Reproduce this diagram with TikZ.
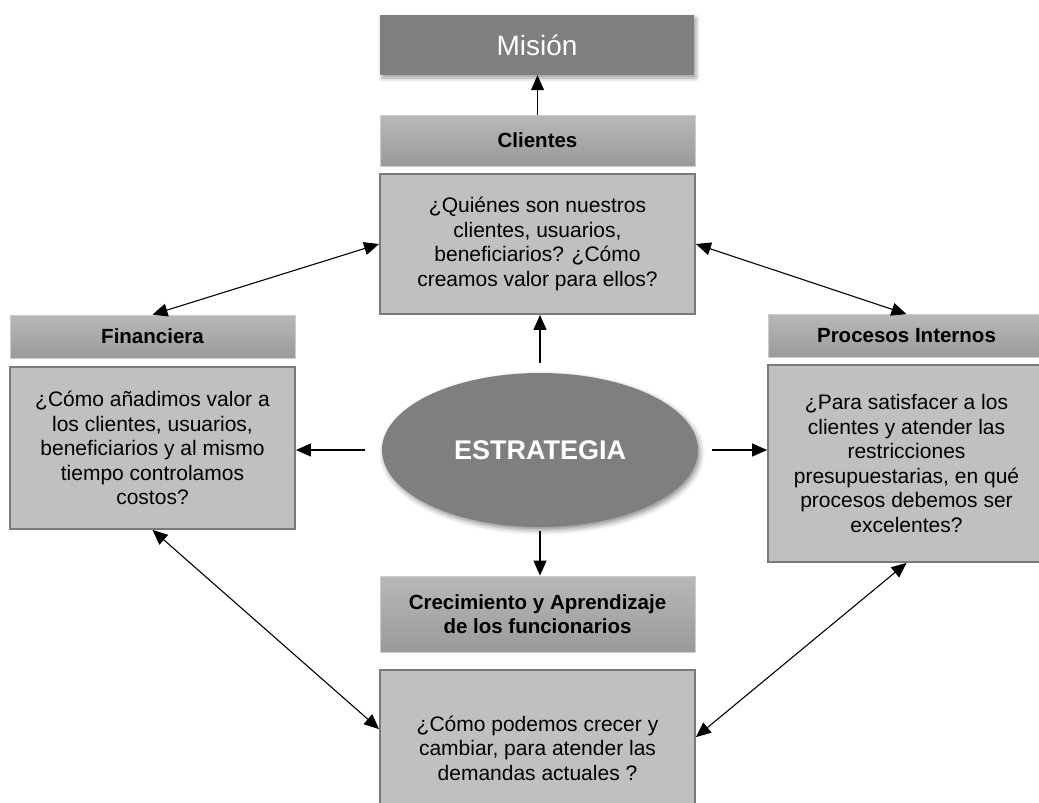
\documentclass[tikz,border=0pt]{standalone}
\usepackage{fontspec}
\setmainfont{Liberation Sans}
\usetikzlibrary{arrows.meta,shadows.blur,shapes.geometric}
\definecolor{darkfill}{HTML}{7F7F7F}
\definecolor{boxfill}{HTML}{C0C0C0}
\definecolor{boxline}{HTML}{7A7A7A}
\definecolor{headtop}{HTML}{B8B8B8}
\definecolor{headbot}{HTML}{9A9A9A}
\definecolor{headline}{HTML}{CCCCCC}
\tikzset{
  headbox/.style={rectangle, top color=headtop, bottom color=headbot, draw=headline, line width=0.8pt,
    inner sep=0pt, align=center, font=\fontsize{20.5}{23.5}\selectfont\bfseries},
  qbox/.style={rectangle, fill=boxfill, draw=boxline, line width=1.8pt, inner sep=0pt, align=center,
    font=\fontsize{21}{24.5}\selectfont},
  arr/.style={line width=1.1pt, -{Triangle[length=15pt,width=13pt]}},
  darr/.style={line width=1.1pt, {Triangle[length=15pt,width=13pt]}-{Triangle[length=15pt,width=13pt]}},
}
\begin{document}
\begin{tikzpicture}[x=1pt,y=-1pt]
\useasboundingbox (0,0) rectangle (1039,803);
\clip (0,0) rectangle (1039,803);
% Mision
\node[rectangle, fill=darkfill, inner sep=0pt, minimum width=314pt, minimum height=60pt,
  blur shadow={shadow xshift=2pt, shadow yshift=-3pt, shadow blur radius=4pt, shadow opacity=40},
  text=white, font=\fontsize{28}{30}\selectfont] (mision) at (537,45) {Misión};
% Clientes
\node[headbox, minimum width=315pt, minimum height=51pt] (clientesH) at (537.5,140.5) {Clientes};
\node[qbox, minimum width=315pt, minimum height=140pt] (clientesB) at (537.5,244)
  {¿Quiénes son nuestros\\clientes, usuarios,\\beneficiarios? ¿Cómo\\creamos valor para ellos?};
% Financiera
\node[headbox, minimum width=285pt, minimum height=43pt] (finH) at (152.5,336.5) {Financiera};
\node[qbox, minimum width=285pt, minimum height=162pt] (finB) at (152.5,448)
  {¿Cómo añadimos valor a\\los clientes, usuarios,\\beneficiarios y al mismo\\tiempo controlamos\\costos?};
% Procesos Internos
\node[headbox, minimum width=277pt, minimum height=43pt] (procH) at (906.5,336) {Procesos Internos};
\node[qbox, minimum width=277pt, minimum height=197pt] (procB) at (906.5,463.5)
  {¿Para satisfacer a los\\clientes y atender las\\restricciones\\presupuestarias, en qué\\procesos debemos ser\\excelentes?};
% Estrategia
\node[ellipse, fill=darkfill, inner sep=0pt, minimum width=316pt, minimum height=154pt,
  blur shadow={shadow xshift=2pt, shadow yshift=-3pt, shadow blur radius=5pt, shadow opacity=45},
  text=white, font=\fontsize{27}{30}\selectfont\bfseries] (ell) at (540,450) {ESTRATEGIA};
% Crecimiento
\node[headbox, minimum width=315pt, minimum height=76pt] (crecH) at (537.5,614)
  {Crecimiento y Aprendizaje\\de los funcionarios};
\node[qbox, minimum width=315pt, minimum height=156pt] (crecB) at (537.5,748)
  {¿Cómo podemos crecer y\\cambiar, para atender las\\demandas actuales ?};
% connectors
\draw[arr] (clientesH.north) -- (mision.south -| clientesH.north);
\draw[arr, shorten <=10pt] (ell.north) -- (ell.north |- clientesB.south);
\draw[arr, shorten <=17pt] (ell.west) -- (finB.east |- ell.west);
\draw[arr, shorten <=14pt] (ell.east) -- (procB.west |- ell.east);
\draw[arr, shorten <=4pt] (ell.south) -- (ell.south |- crecH.north);
\coordinate (crecL) at ([yshift=-60pt]crecB.north west);
\coordinate (crecR) at ([yshift=-68pt]crecB.north east);
\draw[darr] (finH.north) -- (clientesB.west);
\draw[darr] (clientesB.east) -- (procH.north);
\draw[darr] (finB.south) -- (crecL);
\draw[darr] (procB.south) -- (crecR);
\end{tikzpicture}
\end{document}
